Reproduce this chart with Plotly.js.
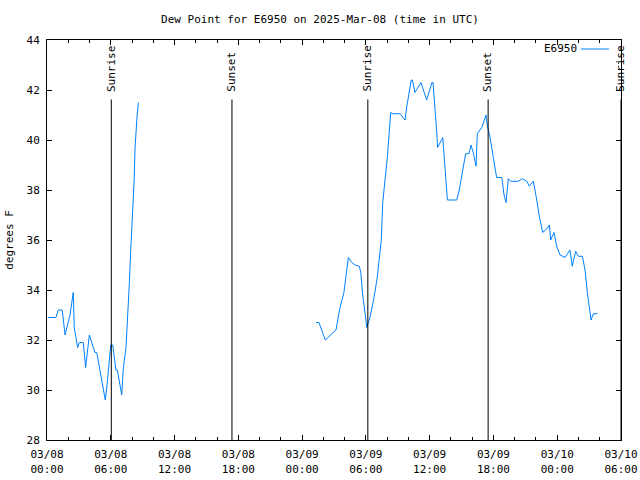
<!DOCTYPE html>
<html>
<head>
<meta charset="utf-8">
<script src="https://cdn.plot.ly/plotly-3.0.1.min.js"></script>
<style>html,body{margin:0;padding:0;background:#fff;}#chart{width:640px;height:480px;}</style>
</head>
<body>
<div id="chart"></div>
<script>
// Dew point readings (deg F), times in UTC; null marks the data gap
const times = [
  '2025-03-08 00:06','2025-03-08 00:50','2025-03-08 01:04','2025-03-08 01:26','2025-03-08 01:42',
  '2025-03-08 02:10','2025-03-08 02:20','2025-03-08 02:28','2025-03-08 02:34','2025-03-08 02:53',
  '2025-03-08 03:02','2025-03-08 03:25','2025-03-08 03:38','2025-03-08 03:59','2025-03-08 04:31',
  '2025-03-08 04:41','2025-03-08 05:29','2025-03-08 05:39','2025-03-08 06:00','2025-03-08 06:11',
  '2025-03-08 06:29','2025-03-08 06:37','2025-03-08 07:02','2025-03-08 07:11','2025-03-08 07:26',
  '2025-03-08 07:39','2025-03-08 07:45','2025-03-08 07:50','2025-03-08 07:55','2025-03-08 08:01',
  '2025-03-08 08:06','2025-03-08 08:12','2025-03-08 08:17','2025-03-08 08:23','2025-03-08 08:29',
  '2025-03-08 08:36',
  '2025-03-08 20:00',
  '2025-03-09 01:18','2025-03-09 01:35','2025-03-09 02:11','2025-03-09 03:11','2025-03-09 03:34',
  '2025-03-09 03:56','2025-03-09 04:21','2025-03-09 04:40','2025-03-09 04:59','2025-03-09 05:23',
  '2025-03-09 05:31','2025-03-09 05:42','2025-03-09 05:55','2025-03-09 06:05','2025-03-09 06:23',
  '2025-03-09 06:46','2025-03-09 07:04','2025-03-09 07:16','2025-03-09 07:27','2025-03-09 07:35',
  '2025-03-09 07:48','2025-03-09 08:01','2025-03-09 08:20','2025-03-09 08:31','2025-03-09 09:13',
  '2025-03-09 09:41','2025-03-09 09:50','2025-03-09 10:16','2025-03-09 10:22','2025-03-09 10:37',
  '2025-03-09 11:11','2025-03-09 11:43','2025-03-09 12:13','2025-03-09 12:19','2025-03-09 12:40',
  '2025-03-09 12:45','2025-03-09 13:14','2025-03-09 13:25','2025-03-09 13:40','2025-03-09 14:33',
  '2025-03-09 14:47','2025-03-09 15:23','2025-03-09 15:42','2025-03-09 15:53','2025-03-09 16:06',
  '2025-03-09 16:22','2025-03-09 16:29','2025-03-09 16:54','2025-03-09 17:18','2025-03-09 17:25',
  '2025-03-09 17:41','2025-03-09 17:59','2025-03-09 18:18','2025-03-09 18:47','2025-03-09 19:00',
  '2025-03-09 19:11','2025-03-09 19:24','2025-03-09 19:37','2025-03-09 20:20','2025-03-09 20:43',
  '2025-03-09 21:08','2025-03-09 21:23','2025-03-09 21:45','2025-03-09 22:01','2025-03-09 22:19',
  '2025-03-09 22:38','2025-03-09 23:01','2025-03-09 23:16','2025-03-09 23:23','2025-03-09 23:42',
  '2025-03-09 23:57','2025-03-10 00:16','2025-03-10 00:44','2025-03-10 01:12','2025-03-10 01:25',
  '2025-03-10 01:44','2025-03-10 01:59','2025-03-10 02:22','2025-03-10 02:37','2025-03-10 02:50',
  '2025-03-10 03:11','2025-03-10 03:24','2025-03-10 03:47'
];
const dewPoint = [
  32.9, 32.9, 33.2, 33.2, 32.2,
  33.0, 33.5, 33.9, 32.5, 31.7,
  31.9, 31.9, 30.9, 32.2, 31.5,
  31.5, 29.6, 30.2, 31.8, 31.8,
  30.8, 30.8, 29.8, 30.9, 31.7,
  33.3, 34.3, 35.2, 35.9, 36.5,
  37.3, 38.4, 39.7, 40.5, 41.0,
  41.5,
  null,
  32.7, 32.7, 32.0, 32.4, 33.3,
  33.9, 35.3, 35.1, 35.0, 34.95,
  34.7, 33.8, 33.1, 32.5, 32.9,
  33.7, 34.5, 35.3, 36.0, 37.5,
  38.5, 39.3, 41.1, 41.05, 41.05,
  40.8, 41.3, 42.4, 42.4, 41.9,
  42.3, 41.6, 42.3, 42.3, 40.3,
  39.7, 40.1, 38.9, 37.6, 37.6,
  38.0, 39.45, 39.45, 39.8, 39.5,
  38.95, 40.25, 40.5, 41.0, 40.6,
  40.1, 39.3, 38.5, 38.5, 37.8,
  37.5, 38.45, 38.35, 38.35, 38.45,
  38.35, 38.15, 38.35, 37.75, 36.95,
  36.3, 36.45, 36.6, 36.0, 36.3,
  35.75, 35.4, 35.3, 35.6, 34.95,
  35.55, 35.35, 35.35, 34.8, 33.9,
  32.8, 33.05, 33.05
];
const sunTimes = ['2025-03-08 06:03','2025-03-08 17:24','2025-03-09 06:11','2025-03-09 17:30','2025-03-10 06:00'];
const sunLabels = ['Sunrise','Sunset','Sunrise','Sunset','Sunrise'];
const stationName = 'E6950';

const FONT = 'DejaVu Sans Mono, monospace';
const shapes = sunTimes.map(t => ({
  type: 'line', xref: 'x', yref: 'y', x0: t, x1: t, y0: 28, y1: 41.62,
  line: {color: '#000', width: 1}
}));
shapes.push({type: 'line', xref: 'paper', yref: 'paper', x0: 0.93, x1: 0.979, y0: 0.9775, y1: 0.9775,
  line: {color: 'rgb(0,128,255)', width: 1}});
const annotations = sunTimes.map((t, i) => ({
  x: t, y: 41.85, xref: 'x', yref: 'y', text: sunLabels[i], textangle: -90,
  showarrow: false, xanchor: 'center', yanchor: 'bottom',
  font: {family: FONT, size: 11, color: '#000'}
}));
annotations.push({x: 0.927, y: 0.9775, xref: 'paper', yref: 'paper', text: stationName,
  showarrow: false, xanchor: 'right', yanchor: 'middle', font: {family: FONT, size: 11, color: '#000'}});

const trace = {
  x: times, y: dewPoint, type: 'scatter', mode: 'lines', name: stationName,
  connectgaps: false, line: {color: 'rgb(0,128,255)', width: 1}
};

const layout = {
  width: 640, height: 480,
  margin: {l: 47, r: 19, t: 40, b: 40},
  paper_bgcolor: '#fff', plot_bgcolor: '#fff',
  showlegend: false,
  font: {family: FONT, size: 11, color: '#000'},
  title: {text: 'Dew Point for E6950 on 2025-Mar-08 (time in UTC)', x: 0.5, xanchor: 'center', y: 0.96, yanchor: 'middle',
    font: {family: FONT, size: 11, color: '#000'}},
  xaxis: {
    type: 'date', range: ['2025-03-08 00:00', '2025-03-10 06:00'],
    tick0: '2025-03-08 00:00', dtick: 6 * 3600000, tickformat: '%m/%d<br>%H:%M',
    ticks: 'inside', ticklen: 5, tickcolor: '#000', tickwidth: 1,
    minor: {dtick: 2 * 3600000, ticks: 'inside', ticklen: 3, tickcolor: '#000', showgrid: false},
    showline: true, linecolor: '#000', linewidth: 1, mirror: 'allticks',
    showgrid: false, zeroline: false, ticklabelstandoff: 4,
    tickfont: {family: FONT, size: 11, color: '#000'}
  },
  yaxis: {
    range: [28, 44], dtick: 2, tick0: 28,
    ticks: 'inside', ticklen: 5, tickcolor: '#000', tickwidth: 1,
    showline: true, linecolor: '#000', linewidth: 1, mirror: 'allticks',
    showgrid: false, zeroline: false, ticklabelstandoff: 4,
    title: {text: 'degrees F', standoff: 10, font: {family: FONT, size: 11, color: '#000'}},
    tickfont: {family: FONT, size: 11, color: '#000'}
  },
  shapes: shapes,
  annotations: annotations
};

Plotly.newPlot('chart', [trace], layout, {staticPlot: true, displayModeBar: false});
</script>
</body>
</html>
